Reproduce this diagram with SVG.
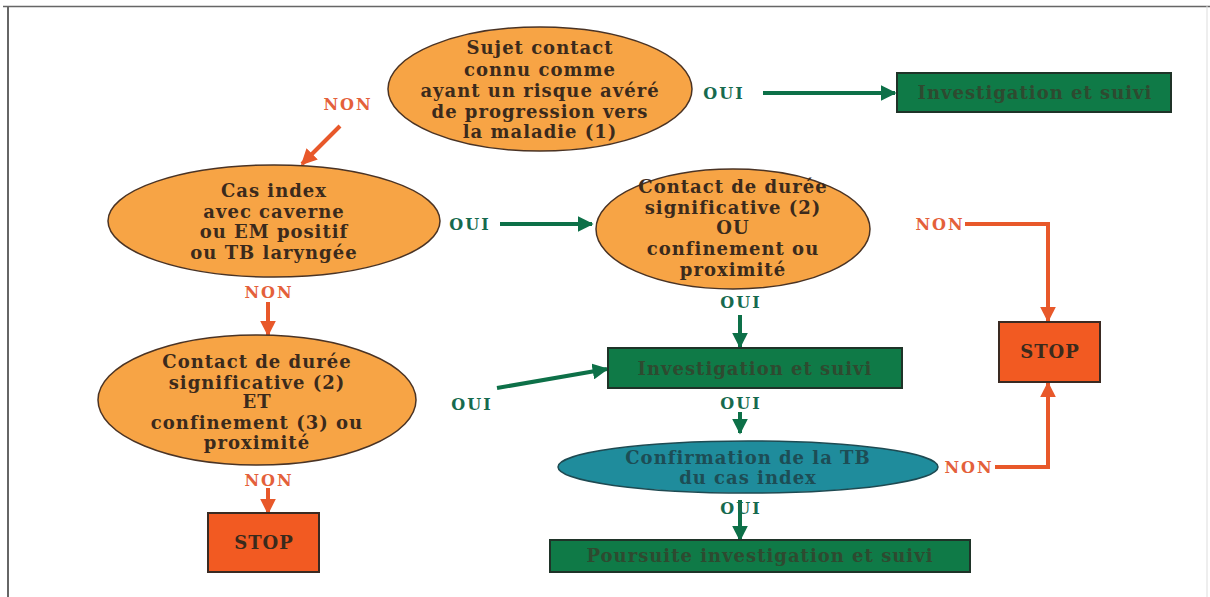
<svg xmlns="http://www.w3.org/2000/svg" width="1210" height="597" viewBox="0 0 1210 597">
<defs>
<marker id="ag" viewBox="0 0 10 10" refX="9" refY="5" markerWidth="4" markerHeight="4" orient="auto" markerUnits="strokeWidth"><path d="M0,0 L10,5 L0,10 z" fill="#0d7048"/></marker>
<marker id="ao" viewBox="0 0 10 10" refX="9" refY="5" markerWidth="4" markerHeight="4" orient="auto" markerUnits="strokeWidth"><path d="M0,0 L10,5 L0,10 z" fill="#e8582a"/></marker>
</defs>
<style>
text{font-family:"DejaVu Serif","Liberation Serif",serif;font-weight:bold;text-anchor:middle}
.n{font-size:18px;letter-spacing:1px;fill:#3b2a1c}
.g{font-size:18px;letter-spacing:1px;fill:#2e4a30}
.t{font-size:18px;letter-spacing:1px;fill:#1d4d55}
.s{font-size:18px;letter-spacing:1px;fill:#3a2a1c}
.oui{font-size:16px;letter-spacing:2px;fill:#166a4e}
.non{font-size:16px;letter-spacing:2px;fill:#e4603a}
.oe{fill:#f7a445;stroke:#4a3324;stroke-width:1.5}
.gb{fill:#0f7a47;stroke:#1f3328;stroke-width:2}
.st{fill:#f25a22;stroke:#3a2a22;stroke-width:2}
.te{fill:#1f8c9c;stroke:#1e4a52;stroke-width:1.5}
.cg{stroke:#0d7048;stroke-width:4;fill:none}
.co{stroke:#e8582a;stroke-width:4;fill:none}
</style>
<rect width="1210" height="597" fill="#fff"/>
<g id="frame" fill="none">
<line x1="3" y1="6.5" x2="1210" y2="6.5" stroke="#666" stroke-width="1.5"/>
<line x1="8" y1="6" x2="8" y2="597" stroke="#666" stroke-width="2"/>
<line x1="1207" y1="6" x2="1207" y2="597" stroke="#ddd" stroke-width="1"/>
</g>
<g id="connectors">
<line class="cg" x1="763" y1="93" x2="895" y2="93" stroke-width="3" marker-end="url(#ag)"/>
<line class="co" x1="340" y1="126" x2="302" y2="164" stroke-width="3" marker-end="url(#ao)"/>
<line class="cg" x1="500" y1="224" x2="592" y2="224" stroke-width="3" marker-end="url(#ag)"/>
<polyline class="co" points="965,224 1048,224 1048,321" marker-end="url(#ao)"/>
<polyline class="co" points="995,467 1048,467 1048,383" marker-end="url(#ao)"/>
<line class="co" x1="268" y1="302" x2="268" y2="335" marker-end="url(#ao)"/>
<line class="cg" x1="740" y1="315" x2="740" y2="347" marker-end="url(#ag)"/>
<line class="cg" x1="497" y1="388" x2="607" y2="369" stroke-width="3" marker-end="url(#ag)"/>
<line class="cg" x1="740" y1="412" x2="740" y2="433" marker-end="url(#ag)"/>
<line class="cg" x1="740" y1="500" x2="740" y2="540" marker-end="url(#ag)"/>
<line class="co" x1="268" y1="488" x2="268" y2="513" marker-end="url(#ao)"/>
<text class="oui" x="724" y="99">OUI</text>
<text class="non" x="348" y="110">NON</text>
<text class="oui" x="470" y="230">OUI</text>
<text class="non" x="940" y="230">NON</text>
<text class="non" x="269" y="298">NON</text>
<text class="oui" x="741" y="308">OUI</text>
<text class="oui" x="472" y="410">OUI</text>
<text class="oui" x="741" y="409">OUI</text>
<text class="non" x="969" y="473">NON</text>
<text class="oui" x="741" y="514">OUI</text>
<text class="non" x="269" y="486">NON</text>
</g>
<g id="n1">
<ellipse class="oe" cx="540" cy="89" rx="152" ry="62"/>
<text class="n" x="540" y="54">Sujet contact</text>
<text class="n" x="540" y="76">connu comme</text>
<text class="n" x="540" y="97">ayant un risque avéré</text>
<text class="n" x="540" y="118">de progression vers</text>
<text class="n" x="540" y="138">la maladie (1)</text>
</g>
<g id="n2">
<rect class="gb" x="897" y="73" width="274" height="39"/>
<text class="g" x="1035" y="99">Investigation et suivi</text>
</g>
<g id="n3">
<ellipse class="oe" cx="274" cy="221" rx="166" ry="56"/>
<text class="n" x="274" y="197">Cas index</text>
<text class="n" x="274" y="218">avec caverne</text>
<text class="n" x="274" y="238">ou EM positif</text>
<text class="n" x="274" y="259">ou TB laryngée</text>
</g>
<g id="n4">
<ellipse class="oe" cx="733" cy="229" rx="137" ry="60"/>
<text class="n" x="733" y="193">Contact de durée</text>
<text class="n" x="733" y="214">significative (2)</text>
<text class="n" x="733" y="234">OU</text>
<text class="n" x="733" y="255">confinement ou</text>
<text class="n" x="733" y="276">proximité</text>
</g>
<g id="n5">
<rect class="st" x="999" y="322" width="101" height="60"/>
<text class="s" x="1050" y="358">STOP</text>
</g>
<g id="n6">
<ellipse class="oe" cx="257" cy="400" rx="159" ry="65"/>
<text class="n" x="257" y="368">Contact de durée</text>
<text class="n" x="257" y="389">significative (2)</text>
<text class="n" x="257" y="408">ET</text>
<text class="n" x="257" y="429">confinement (3) ou</text>
<text class="n" x="257" y="449">proximité</text>
</g>
<g id="n7">
<rect class="gb" x="608" y="348" width="294" height="40"/>
<text class="g" x="755" y="375">Investigation et suivi</text>
</g>
<g id="n8">
<ellipse class="te" cx="748" cy="467" rx="190" ry="26"/>
<text class="t" x="748" y="464">Confirmation de la TB</text>
<text class="t" x="748" y="484">du cas index</text>
</g>
<g id="n9">
<rect class="gb" x="550" y="540" width="420" height="32"/>
<text class="g" x="760" y="562">Poursuite investigation et suivi</text>
</g>
<g id="n10">
<rect class="st" x="208" y="513" width="111" height="59"/>
<text class="s" x="264" y="549">STOP</text>
</g>
</svg>
